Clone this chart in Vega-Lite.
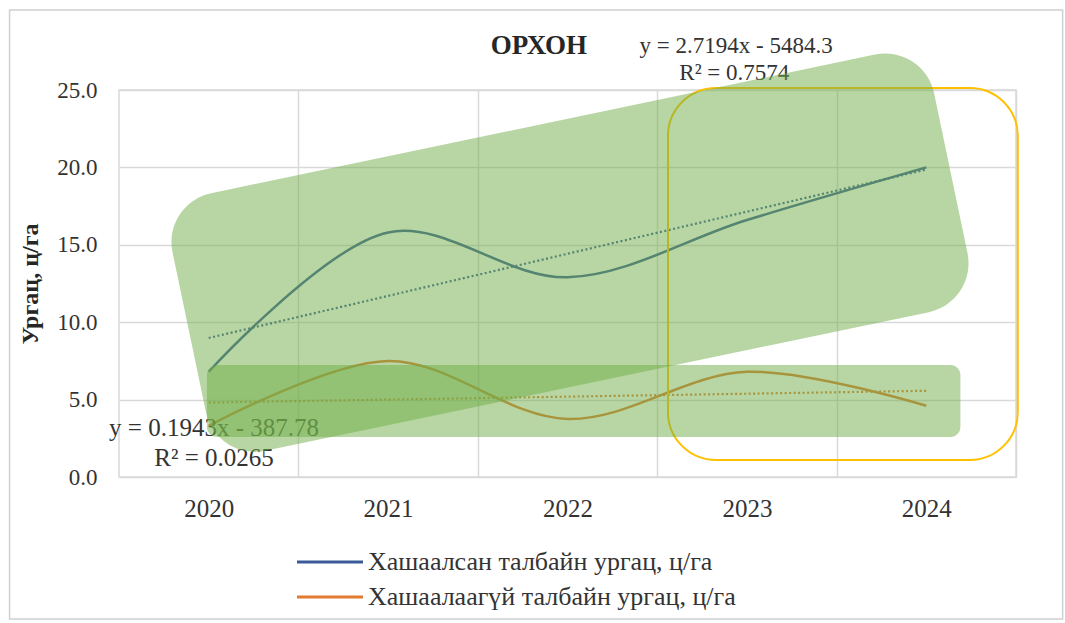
{
  "$schema": "https://vega.github.io/schema/vega-lite/v6.json",
  "width": 897,
  "height": 387,
  "autosize": "none",
  "padding": {"left": 119, "top": 90, "right": 49, "bottom": 146},
  "background": "white",
  "config": {
    "font": "Liberation Serif",
    "view": {"stroke": "#d9d9d9", "strokeWidth": 1.5},
    "axis": {"labelFont": "Liberation Serif", "titleFont": "Liberation Serif", "labelColor": "#333333", "titleColor": "#262626"},
    "legend": {"labelFont": "Liberation Serif"}
  },
  "datasets": {
    "yield": [
      {"year": 2020, "series": "Хашаалсан талбайн ургац, ц/га", "value": 6.8},
      {"year": 2021, "series": "Хашаалсан талбайн ургац, ц/га", "value": 15.8},
      {"year": 2022, "series": "Хашаалсан талбайн ургац, ц/га", "value": 12.9},
      {"year": 2023, "series": "Хашаалсан талбайн ургац, ц/га", "value": 16.6},
      {"year": 2024, "series": "Хашаалсан талбайн ургац, ц/га", "value": 20.0},
      {"year": 2020, "series": "Хашаалаагүй талбайн ургац, ц/га", "value": 3.3},
      {"year": 2021, "series": "Хашаалаагүй талбайн ургац, ц/га", "value": 7.5},
      {"year": 2022, "series": "Хашаалаагүй талбайн ургац, ц/га", "value": 3.75},
      {"year": 2023, "series": "Хашаалаагүй талбайн ургац, ц/га", "value": 6.8},
      {"year": 2024, "series": "Хашаалаагүй талбайн ургац, ц/га", "value": 4.6}
    ]
  },
  "layer": [
    {
      "data": {"name": "yield"},
      "mark": {"type": "line", "interpolate": "catmull-rom", "strokeWidth": 2.5},
      "encoding": {
        "x": {
          "field": "year", "type": "quantitative",
          "scale": {"domain": [2019.5, 2024.5], "nice": false, "zero": false},
          "axis": {
            "title": null,
            "values": [2020.5, 2021.5, 2022.5, 2023.5, 2024.5],
            "labelExpr": "format(datum.value - 0.5, 'd')",
            "labelOffset": -89.7,
            "labelFlush": false,
            "labelOverlap": false,
            "labelFontSize": 25,
            "labelPadding": 19,
            "grid": true,
            "gridColor": "#d9d9d9",
            "gridWidth": 1.5,
            "ticks": false,
            "domain": false
          }
        },
        "y": {
          "field": "value", "type": "quantitative",
          "scale": {"domain": [0, 25], "nice": false},
          "axis": {
            "title": "Ургац, ц/га",
            "titleFontSize": 24,
            "titleFontWeight": "bold",
            "titlePadding": 14,
            "values": [0, 5, 10, 15, 20, 25],
            "format": ".1f",
            "labelFontSize": 23,
            "labelPadding": 22,
            "grid": true,
            "gridColor": "#d9d9d9",
            "gridWidth": 1.5,
            "ticks": false,
            "domain": false
          }
        },
        "color": {
          "field": "series", "type": "nominal",
          "scale": {
            "domain": ["Хашаалсан талбайн ургац, ц/га", "Хашаалаагүй талбайн ургац, ц/га"],
            "range": ["#3A5A98", "#E07B30"]
          },
          "legend": {
            "title": null,
            "orient": "none",
            "legendX": 198,
            "legendY": 459,
            "symbolType": "M-3,0L3,0",
            "symbolSize": 484,
            "symbolStrokeWidth": 3,
            "labelOffset": 25,
            "labelFontSize": 26,
            "labelColor": "#333333",
            "labelLimit": 600,
            "rowPadding": 9
          }
        }
      }
    },
    {
      "data": {"name": "yield"},
      "transform": [{"regression": "value", "on": "year", "groupby": ["series"]}],
      "mark": {"type": "line", "strokeWidth": 2.2, "strokeDash": [2, 2.5]},
      "encoding": {
        "x": {"field": "year", "type": "quantitative"},
        "y": {"field": "value", "type": "quantitative"},
        "color": {"field": "series", "type": "nominal", "legend": null}
      }
    },
    {
      "data": {"values": [{}]},
      "mark": {"type": "text", "text": "ОРХОН", "fontSize": 27, "fontWeight": "bold", "font": "Liberation Serif", "color": "#262626", "align": "center", "baseline": "middle", "clip": false},
      "encoding": {"x": {"datum": 2021.84, "type": "quantitative"}, "y": {"datum": 27.84, "type": "quantitative"}}
    },
    {
      "data": {"values": [{}]},
      "mark": {"type": "text", "text": "y = 2.7194x - 5484.3", "fontSize": 23, "font": "Liberation Serif", "color": "#333333", "align": "center", "baseline": "middle", "clip": false},
      "encoding": {"x": {"datum": 2022.94, "type": "quantitative"}, "y": {"datum": 27.84, "type": "quantitative"}}
    },
    {
      "data": {"values": [{}]},
      "mark": {"type": "text", "text": "R² = 0.7574", "fontSize": 23, "font": "Liberation Serif", "color": "#333333", "align": "center", "baseline": "middle", "clip": false},
      "encoding": {"x": {"datum": 2022.93, "type": "quantitative"}, "y": {"datum": 26.13, "type": "quantitative"}}
    },
    {
      "data": {"values": [{}]},
      "mark": {"type": "text", "text": "y = 0.1943x - 387.78", "fontSize": 25, "font": "Liberation Serif", "color": "#333333", "align": "center", "baseline": "middle", "clip": false},
      "encoding": {"x": {"datum": 2020.03, "type": "quantitative"}, "y": {"datum": 3.17, "type": "quantitative"}}
    },
    {
      "data": {"values": [{}]},
      "mark": {"type": "text", "text": "R² = 0.0265", "fontSize": 25, "font": "Liberation Serif", "color": "#333333", "align": "center", "baseline": "middle", "clip": false},
      "encoding": {"x": {"datum": 2020.03, "type": "quantitative"}, "y": {"datum": 1.23, "type": "quantitative"}}
    },
    {
      "data": {"values": [{}]},
      "mark": {"type": "rect", "filled": false, "stroke": "#d0d0d0", "strokeWidth": 1.5, "clip": false},
      "encoding": {
        "x": {"datum": 2018.89, "type": "quantitative"},
        "x2": {"datum": 2024.76},
        "y": {"datum": 30.17, "type": "quantitative"},
        "y2": {"datum": -9.17}
      }
    },
    {
      "data": {"values": [{}]},
      "mark": {"type": "rect", "filled": false, "stroke": "#FFC000", "strokeWidth": 2, "cornerRadius": 48, "clip": false},
      "encoding": {
        "x": {"datum": 2022.56, "type": "quantitative"},
        "x2": {"datum": 2024.51},
        "y": {"datum": 25.13, "type": "quantitative"},
        "y2": {"datum": 1.1}
      }
    },
    {
      "data": {"values": [{}]},
      "mark": {"type": "rect", "fill": "#70AD47", "opacity": 0.5, "cornerRadius": 10, "clip": false},
      "encoding": {
        "x": {"datum": 2019.99, "type": "quantitative"},
        "x2": {"datum": 2024.19},
        "y": {"datum": 7.24, "type": "quantitative"},
        "y2": {"datum": 2.58}
      }
    },
    {
      "data": {"values": [{}]},
      "mark": {
        "type": "point",
        "shape": "M-0.8475,-0.329L0.8475,-0.329A0.125,0.125,0,0,1,0.9725,-0.204L0.9725,0.204A0.125,0.125,0,0,1,0.8475,0.329L-0.8475,0.329A0.125,0.125,0,0,1,-0.9725,0.204L-0.9725,-0.204A0.125,0.125,0,0,1,-0.8475,-0.329Z",
        "size": 640000,
        "angle": -11.8,
        "filled": true,
        "fill": "#70AD47",
        "opacity": 0.5,
        "strokeWidth": 0,
        "clip": false
      },
      "encoding": {
        "x": {"datum": 2022.014, "type": "quantitative"},
        "y": {"datum": 14.49, "type": "quantitative"}
      }
    }
  ]
}
